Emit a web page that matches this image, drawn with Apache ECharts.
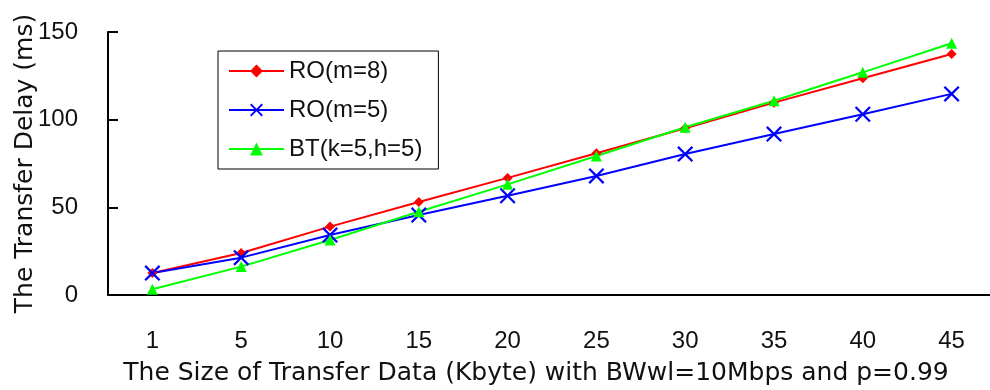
<!DOCTYPE html>
<html>
<head>
<meta charset="utf-8">
<script src="https://cdn.jsdelivr.net/npm/echarts@6/dist/echarts.min.js"></script>
<style>
  html, body { margin: 0; padding: 0; background: #fff; }
  #myechart { width: 990px; height: 390px; }
</style>
</head>
<body>
<div id="myechart"></div>
<script>
// data
var categories = ['1', '5', '10', '15', '20', '25', '30', '35', '40', '45'];
var roM8 = [12.5, 24, 39, 53, 66.8, 80.8, 95.1, 109.7, 123.6, 137.5];
var roM5 = [12.5, 21.3, 34.2, 45.6, 56.6, 67.9, 80.4, 91.8, 103.1, 114.7];
var btK5H5 = [3.3, 16.2, 31.4, 47.5, 63.1, 79.3, 95.7, 110.8, 127, 143.6];
var yTicks = [0, 50, 100, 150];

var font = 'Liberation Sans, Arial, sans-serif';
var titleFont = 'DejaVu Sans, Verdana, sans-serif';
var crossPath = 'path://M0,1 L1,0 L5,4 L9,0 L10,1 L6,5 L10,9 L9,10 L5,6 L1,10 L0,9 L4,5 Z';

var myechart = echarts.init(document.getElementById('myechart'));

var option = {
  animation: false,
  backgroundColor: '#fff',
  textStyle: { fontFamily: font },
  grid: { left: 108, top: 32, bottom: 95, right: -6, containLabel: false, outerBoundsMode: 'none' },
  legend: {
    left: 218,
    top: 51,
    orient: 'vertical',
    borderColor: '#000',
    borderWidth: 1,
    padding: [8, 16, 8, 10],
    itemGap: 15,
    itemWidth: 55,
    itemHeight: 16,
    textStyle: { fontSize: 24, color: '#111', fontFamily: font },
    data: ['RO(m=8)', 'RO(m=5)', 'BT(k=5,h=5)']
  },
  xAxis: {
    type: 'category',
    data: categories,
    boundaryGap: true,
    name: 'The Size of Transfer Data (Kbyte) with BWwl=10Mbps and p=0.99',
    nameLocation: 'middle',
    nameGap: 66,
    nameTextStyle: { fontSize: 25, color: '#111', fontFamily: titleFont, padding: [0, 32, 0, 0] },
    axisLine: { lineStyle: { color: '#000', width: 2 } },
    axisTick: { inside: true, length: 10, lineStyle: { color: '#000', width: 2 } },
    axisLabel: { fontSize: 24, color: '#111', margin: 34, fontFamily: font },
    splitLine: { show: false }
  },
  yAxis: {
    type: 'value',
    min: yTicks[0],
    max: yTicks[yTicks.length - 1],
    interval: 50,
    name: 'The Transfer Delay (ms)',
    nameLocation: 'middle',
    nameGap: 70,
    nameMoveOverlap: false,
    nameTextStyle: { fontSize: 25, color: '#111', fontFamily: titleFont },
    axisLine: { show: true, lineStyle: { color: '#000', width: 2 } },
    axisTick: { show: true, inside: true, length: 10, lineStyle: { color: '#000', width: 2 } },
    axisLabel: { fontSize: 24, color: '#111', margin: 30, fontFamily: font },
    splitLine: { show: false }
  },
  series: [
    {
      name: 'RO(m=8)',
      type: 'line',
      data: roM8,
      color: '#ff0000',
      symbol: 'diamond',
      symbolSize: 10,
      lineStyle: { width: 2, color: '#ff0000' },
      itemStyle: { color: '#ff0000' }
    },
    {
      name: 'RO(m=5)',
      type: 'line',
      data: roM5,
      color: '#0000ff',
      symbol: crossPath,
      symbolSize: 16,
      lineStyle: { width: 2, color: '#0000ff' },
      itemStyle: { color: '#0000ff' }
    },
    {
      name: 'BT(k=5,h=5)',
      type: 'line',
      data: btK5H5,
      color: '#00ff00',
      symbol: 'triangle',
      symbolSize: 11,
      lineStyle: { width: 2, color: '#00ff00' },
      itemStyle: { color: '#00ff00' }
    }
  ]
};

myechart.setOption(option);
</script>
</body>
</html>
